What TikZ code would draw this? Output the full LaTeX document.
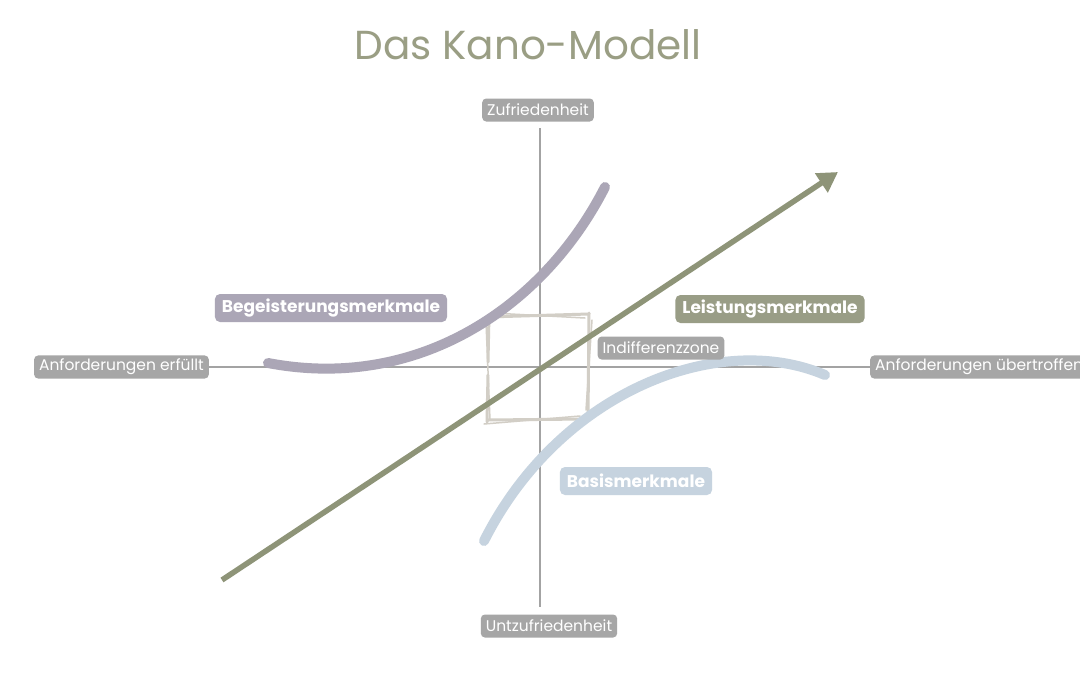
\documentclass[tikz,border=0pt]{standalone}
\usepackage{fontspec}
\setmainfont{Poppins}
\usetikzlibrary{arrows.meta}
\definecolor{titlec}{HTML}{9A9E84}
\definecolor{axisc}{HTML}{A3A3A3}
\definecolor{greylab}{HTML}{A6A6A6}
\definecolor{olive}{HTML}{8E9478}
\definecolor{olivelab}{HTML}{999D86}
\definecolor{lilac}{HTML}{ABA6B6}
\definecolor{bluec}{HTML}{C6D3DF}
\definecolor{sketchc}{HTML}{D2CEC6}
\tikzset{
  axislab/.style={fill=greylab, text=white, rounded corners=4pt, font=\fontsize{15.5}{18}\selectfont, inner xsep=5pt, inner ysep=3.5pt, minimum height=23pt},
  catlab/.style={text=white, rounded corners=5pt, font=\fontsize{17}{20}\selectfont\bfseries, inner xsep=7pt, inner ysep=4pt, minimum height=28pt},
  axisline/.style={axisc, line width=2pt},
  sk/.style={sketchc, line width=3pt, line cap=round},
}
\begin{document}
\begin{tikzpicture}[x=1pt,y=-1pt]
\useasboundingbox[fill=white] (0,0) rectangle (1080,675);
% title
\node[text=titlec, font=\fontsize{40.5}{46}\selectfont] (title) at (528,45) {Das Kano-Modell};
% axis labels
\node[axislab] (top) at (538,110) {Zufriedenheit};
\node[axislab] (bot) at (549,626) {Untzufriedenheit};
\node[axislab, anchor=east] (left) at (209,367) {Anforderungen erfüllt};
\node[axislab, anchor=west] (right) at (870,367) {Anforderungen übertroffen};
% axes
\draw[axisline] (540,128) coordinate (vt) -- (540,607) coordinate (vb);
\draw[axisline] (left.east) -- (right.west);
% sketchy indifference square
\draw[sk] (487,317) -- (589,314);
\draw[sk, line width=1.5pt] (492,313) -- (585,318);
\draw[sk] (488,420) -- (586,419);
\draw[sk, line width=1.5pt] (484,424) -- (580,416);
\draw[sk] (489,315) -- (488,362);
\draw[sk, line width=1.5pt] (486,322) -- (490,420);
\draw[sk] (488,375) -- (487,422);
\draw[sk] (589,313) -- (588,418);
\draw[sk, line width=1.5pt] (592,320) -- (586,410);
% curves
\draw[lilac, line width=10pt, line cap=round] (268,363) .. controls (420,392) and (545,305) .. (605,187);
\draw[bluec, line width=10pt, line cap=round] (484,541) .. controls (560,390) and (720,330) .. (825,375);
% performance arrow
\coordinate (as) at (222,580);
\coordinate (ae) at (838,172);
\draw[olive, line width=5.5pt, -{Triangle[length=20pt,width=22pt]}] (as) -- (ae);
% category labels
\node[catlab, fill=lilac] (beg) at (331,308) {Begeisterungsmerkmale};
\node[catlab, fill=olivelab] (lei) at (770,309) {Leistungsmerkmale};
\node[catlab, fill=bluec] (bas) at (636,481) {Basismerkmale};
\node[axislab] (ind) at (661,348) {Indifferenzzone};
\end{tikzpicture}
\end{document}
